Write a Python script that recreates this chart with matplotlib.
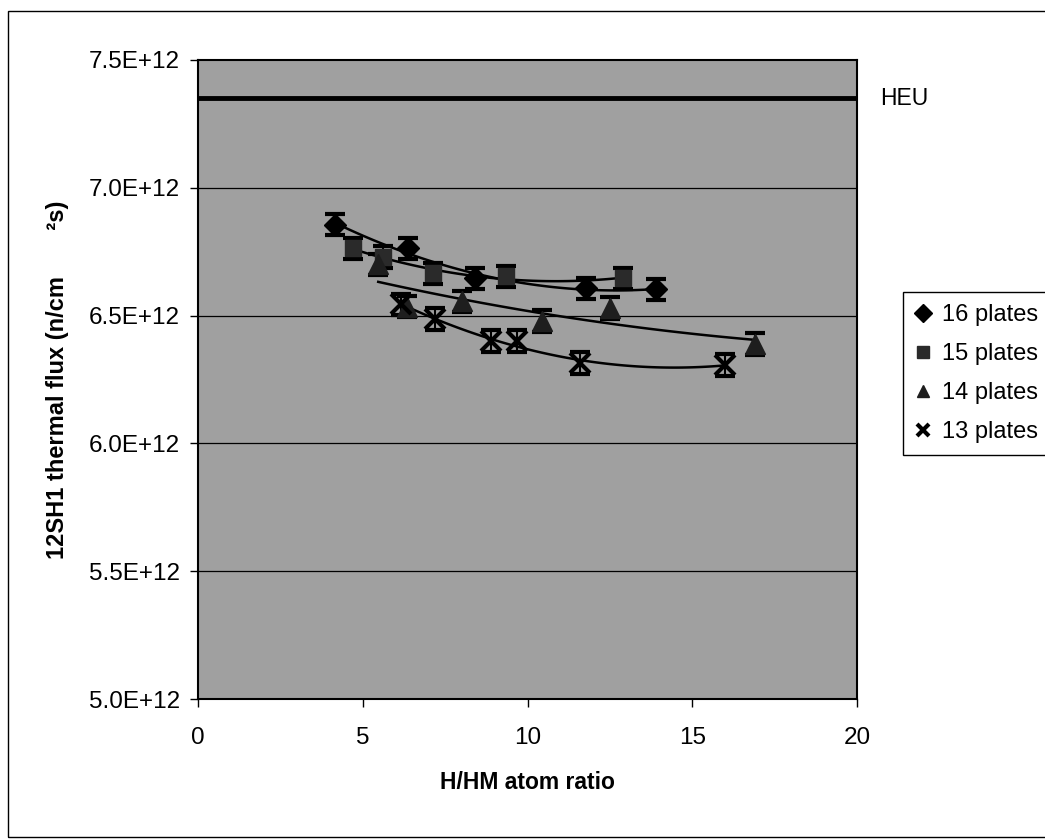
import numpy as np
import matplotlib
matplotlib.use("Agg")
import matplotlib.pyplot as plt
from matplotlib.patches import Rectangle
from matplotlib.ticker import FuncFormatter

plt.rcParams['font.family'] = ['Liberation Sans', 'DejaVu Sans']

# H/HM atom ratio and thermal flux (units of 1e12 n/cm2s)
x16 = [4.16, 6.38, 8.42, 11.79, 13.9]
y16 = [6.856, 6.763, 6.646, 6.607, 6.603]

x15 = [4.71, 5.6, 7.14, 9.36, 12.9]
y15 = [6.763, 6.73, 6.665, 6.654, 6.646]

x14 = [5.47, 6.35, 8.0, 10.43, 12.5, 16.9]
y14 = [6.70, 6.535, 6.556, 6.478, 6.529, 6.389]

x13 = [6.17, 7.2, 8.9, 9.67, 11.6, 16.0]
y13 = [6.544, 6.486, 6.40, 6.40, 6.314, 6.307]

heu_flux = 7.35
err = 0.042

series = [
    ("16 plates", x16, y16, "D", "black", 11),
    ("15 plates", x15, y15, "s", "#2a2a2a", 12),
    ("14 plates", x14, y14, "^", "#1e1e1e", 14),
    ("13 plates", x13, y13, "x", "black", 14),
]

fig = plt.figure(figsize=(10.45, 8.4), dpi=100)
ax = fig.add_axes([198 / 1045, 1 - 699 / 840, (857 - 198) / 1045, (699 - 60) / 840])
ax.set_facecolor("#a0a0a0")

for yv in [5.5, 6.0, 6.5, 7.0]:
    ax.axhline(yv * 1e12, color="black", lw=0.9, zorder=1)

ax.axhline(heu_flux * 1e12, color="black", lw=3.5, zorder=2)

handles = []
for label, xs, ys, mk, col, ms in series:
    xs = np.array(xs)
    ys = np.array(ys) * 1e12
    # polynomial trendline over the data range
    c = np.polyfit(xs, ys, 2)
    xx = np.linspace(xs.min(), xs.max(), 100)
    ax.plot(xx, np.polyval(c, xx), color="black", lw=1.8, zorder=3)
    ax.errorbar(xs, ys, yerr=err * 1e12, fmt="none", ecolor="black",
                elinewidth=1.5, capsize=7, capthick=3, zorder=4)
    h, = ax.plot(xs, ys, linestyle="none", marker=mk, color=col,
                 markersize=ms, markeredgewidth=3 if mk == "x" else 1,
                 label=label, zorder=5)
    handles.append(h)

ax.set_xlim(0, 20)
ax.set_ylim(5.0e12, 7.5e12)
ax.set_xticks([0, 5, 10, 15, 20])
ax.set_yticks([5.0e12, 5.5e12, 6.0e12, 6.5e12, 7.0e12, 7.5e12])
ax.yaxis.set_major_formatter(FuncFormatter(lambda v, p: "%.1fE+12" % (v / 1e12)))
ax.tick_params(axis="both", direction="out", length=6, width=1, labelsize=17.5)
ax.tick_params(axis="x", pad=14)
ax.tick_params(axis="y", pad=7)
for s in ax.spines.values():
    s.set_linewidth(1.5)

ax.set_xlabel("H/HM atom ratio", fontsize=16.5, fontweight="bold", labelpad=16)
ax.set_ylabel("12SH1 thermal flux (n/cm       \u00b2s)", fontsize=17,
              fontweight="bold", labelpad=14)

ax.text(1.035, heu_flux * 1e12, "HEU", transform=ax.get_yaxis_transform(),
        fontsize=16.5, va="center", ha="left")

leg = fig.legend(handles=handles, loc="upper left",
                 bbox_to_anchor=(903 / 1045, 1 - 292 / 840),
                 fontsize=17, frameon=True, fancybox=False, edgecolor="black",
                 framealpha=1, labelspacing=0.72, handlelength=0.7,
                 handletextpad=0.45, borderpad=0.5, borderaxespad=0)
leg.get_frame().set_linewidth(1)
for lh in leg.legend_handles:
    lh.set_markersize(9)

fig.add_artist(Rectangle((8 / 1045, 3 / 840), 1.0, 826 / 840,
                         transform=fig.transFigure, fill=False,
                         edgecolor="black", lw=1))

fig.savefig("out.png", dpi=100)
